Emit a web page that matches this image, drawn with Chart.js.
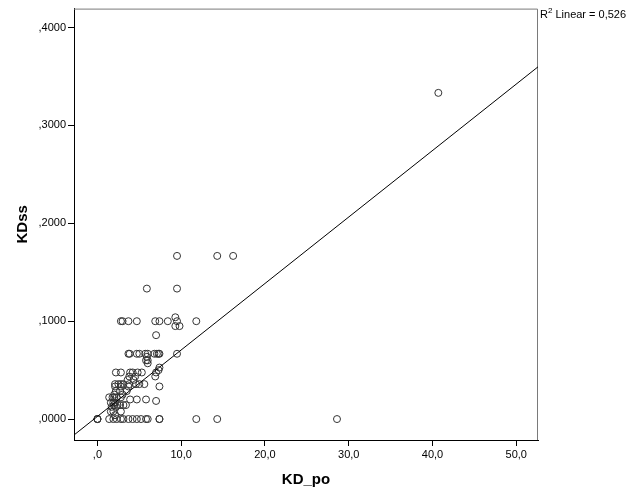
<!DOCTYPE html>
<html>
<head>
<meta charset="utf-8">
<script src="https://cdn.jsdelivr.net/npm/chart.js@4/dist/chart.umd.min.js"></script>
<style>
  body { margin: 0; background: #fff; }
  canvas { display: block; }
</style>
</head>
<body>
<canvas id="chart" width="626" height="501"></canvas>
<script>
// KD_po (x) / KDss (y) のペア
const kdPo = [
  0, 0, 0, 1.4, 1.9, 2.3, 2.8, 3.1, 3.7, 4.2, 4.7, 5.2, 5.8, 6.0, 7.4, 7.4, 11.8, 14.3, 28.6,
  9.5, 14.3, 16.2,
  5.9, 9.5,
  2.8, 3.0, 3.7, 4.7, 6.9, 7.4, 8.4, 9.5, 11.8, 9.3, 9.3, 9.8,
  7.0,
  3.7, 3.85, 4.7, 5.0, 5.7, 6.0, 6.8, 7.1, 7.3, 7.4, 9.5,
  5.9, 6.0, 5.8, 6.0,
  7.4, 7.3,
  2.2, 2.8, 3.9, 4.2, 4.8, 5.3, 7.0,
  3.8, 4.5, 6.9,
  3.6, 4.3,
  2.1, 2.5, 2.8, 3.1, 3.8, 4.6, 5.0, 5.6,
  2.1, 2.8, 3.7, 7.4,
  2.2, 2.7, 3.5,
  2.0, 3.0,
  1.4, 1.8, 2.0, 2.3, 2.8,
  3.9, 4.7, 5.8,
  7.0,
  1.6, 1.9, 2.1,
  2.0, 2.4, 2.7, 3.1, 3.4,
  1.7, 2.2,
  1.6, 1.9, 2.8,
  2.1,
  40.7
];
const kdSs = [
  0, 0, 0, 0, 0, 0, 0, 0, 0, 0, 0, 0, 0, 0, 0, 0, 0, 0, 0,
  0.1667, 0.1667, 0.1667,
  0.1333, 0.1333,
  0.1, 0.1, 0.1, 0.1, 0.1, 0.1, 0.1, 0.1, 0.1, 0.104, 0.095, 0.095,
  0.0857,
  0.0667, 0.0667, 0.0667, 0.0667, 0.0667, 0.0667, 0.0667, 0.0667, 0.0667, 0.0667, 0.0667,
  0.0636, 0.06, 0.06, 0.057,
  0.0526, 0.05,
  0.0476, 0.0476, 0.0476, 0.0476, 0.0476, 0.0476, 0.0476,
  0.0435, 0.0435, 0.0435,
  0.04, 0.04,
  0.0357, 0.0357, 0.0357, 0.0357, 0.0357, 0.0357, 0.0357, 0.0357,
  0.0333, 0.0333, 0.0333, 0.0333,
  0.0286, 0.0286, 0.0286,
  0.025, 0.025,
  0.0222, 0.0222, 0.0222, 0.0222, 0.0222,
  0.02, 0.02, 0.02,
  0.0185,
  0.0167, 0.0167, 0.0167,
  0.0143, 0.0143, 0.0143, 0.0143, 0.0143,
  0.0125, 0.0125,
  0.0077, 0.0077, 0.0077,
  0.004,
  0.3333
];

// 回帰直線 (R2 Linear = 0,526) の両端
const fitX = [-2.8, 52.6];
const fitY = [-0.0163, 0.3599];

const xTicks = [0, 10, 20, 30, 40, 50];
const xTickLabels = [',0', '10,0', '20,0', '30,0', '40,0', '50,0'];
const yTicks = [0, 0.1, 0.2, 0.3, 0.4];
const yTickLabels = [',0000', ',1000', ',2000', ',3000', ',4000'];

document.addEventListener('DOMContentLoaded', init);

function init() {
    const ctx = document.getElementById('chart').getContext('2d');
    const font = 'Liberation Sans';

    const points = kdPo.map((x, i) => ({ x: x, y: kdSs[i] }));
    const fitLine = fitX.map((x, i) => ({ x: x, y: fitY[i] }));

    // 枠線と R2 ラベル
    const framePlugin = {
        id: 'frame',
        beforeDatasetsDraw(chart) {
            const a = chart.chartArea;
            const c = chart.ctx;
            c.save();
            c.strokeStyle = '#7a7a7a';
            c.lineWidth = 1;
            c.beginPath();
            c.moveTo(a.left, a.top + 0.5);
            c.lineTo(a.right - 0.5, a.top + 0.5);
            c.lineTo(a.right - 0.5, a.bottom);
            c.stroke();
            c.restore();
        },
        afterDraw(chart) {
            const a = chart.chartArea;
            const c = chart.ctx;
            c.save();
            c.fillStyle = '#000';
            c.textBaseline = 'alphabetic';
            c.font = '11px "' + font + '"';
            c.fillText('R', a.right + 2, 18);
            const rw = c.measureText('R').width;
            c.font = '8px "' + font + '"';
            c.fillText('2', a.right + 2 + rw, 13);
            const sw = c.measureText('2').width;
            c.font = '11px "' + font + '"';
            c.fillText(' Linear = 0,526', a.right + 2 + rw + sw, 18);
            c.restore();
        }
    };

    new Chart(ctx, {
        type: 'scatter',
        data: {
            datasets: [
                {
                    data: points,
                    pointStyle: 'circle',
                    pointRadius: 3.5,
                    pointBorderWidth: 1,
                    pointBorderColor: '#333',
                    pointBackgroundColor: 'rgba(0,0,0,0)',
                    order: 2
                },
                {
                    type: 'line',
                    data: fitLine,
                    borderColor: '#000',
                    borderWidth: 1,
                    pointRadius: 0,
                    fill: false,
                    order: 1
                }
            ]
        },
        options: {
            responsive: false,
            animation: false,
            devicePixelRatio: 1,
            layout: { padding: { top: 7, right: 88, left: 0, bottom: 0 } },
            plugins: {
                legend: { display: false },
                tooltip: { enabled: false }
            },
            scales: {
                x: {
                    type: 'linear',
                    min: -2.8,
                    max: 52.6,
                    afterBuildTicks: s => { s.ticks = xTicks.map(v => ({ value: v })); },
                    afterFit: s => { s.height = 61; },
                    border: { color: '#000', width: 1 },
                    grid: { drawOnChartArea: false, drawTicks: true, tickLength: 6, color: '#000' },
                    ticks: {
                        color: '#000',
                        font: { family: font, size: 11 },
                        padding: 2,
                        maxRotation: 0,
                        callback: (v, i) => xTickLabels[i]
                    },
                    title: {
                        display: true,
                        text: 'KD_po',
                        color: '#000',
                        font: { family: font, size: 15, weight: 'bold' },
                        padding: { top: 0, bottom: 12 }
                    }
                },
                y: {
                    type: 'linear',
                    min: -0.0214,
                    max: 0.4194,
                    afterBuildTicks: s => { s.ticks = yTicks.map(v => ({ value: v })); },
                    afterFit: s => { s.width = 74; },
                    border: { color: '#000', width: 1 },
                    grid: { drawOnChartArea: false, drawTicks: true, tickLength: 6, color: '#000' },
                    ticks: {
                        color: '#000',
                        font: { family: font, size: 11 },
                        padding: 2,
                        callback: (v, i) => yTickLabels[i]
                    },
                    title: {
                        display: true,
                        text: 'KDss',
                        color: '#000',
                        font: { family: font, size: 15, weight: 'bold' },
                        padding: { top: 14, bottom: 0 }
                    }
                }
            }
        },
        plugins: [framePlugin]
    });
}
</script>
</body>
</html>
